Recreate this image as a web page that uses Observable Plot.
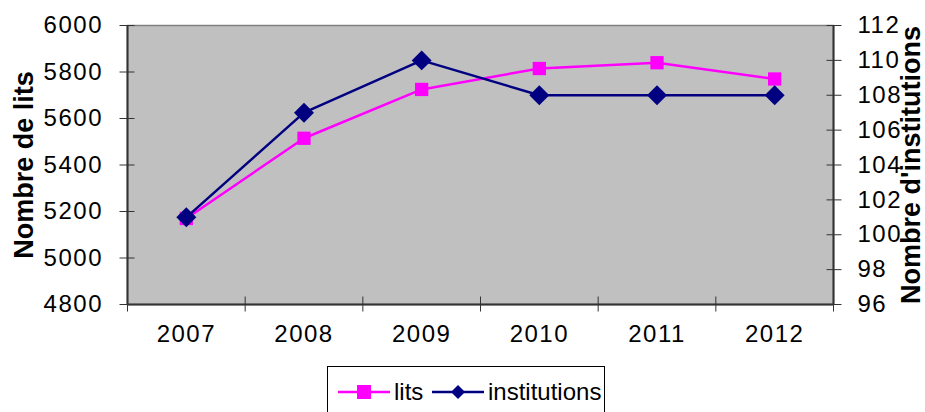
<!DOCTYPE html>
<html>
<head>
<meta charset="utf-8">
<script src="https://cdn.jsdelivr.net/npm/d3@7"></script>
<script src="https://cdn.jsdelivr.net/npm/@observablehq/plot@0.6"></script>
<style>
  body { margin: 0; background: #fff; font-family: "Liberation Sans", Arial, sans-serif; }
  #wrap { position: relative; width: 925px; height: 412px; overflow: hidden; }
  #legend { position: absolute; left: 327px; top: 366px; width: 278px; height: 52px; border: 1px solid #000; box-sizing: border-box; background: #fff; font-size: 24px; color: #000; }
  #legend .item { position: absolute; top: 10px; display: flex; align-items: center; height: 30px; }
  #legend svg { display: block; }
</style>
</head>
<body>
<div id="wrap">
  <div id="chart"></div>
  <div id="legend"></div>
</div>
<script>
const years = [2007, 2008, 2009, 2010, 2011, 2012];
const lits = [5170, 5515, 5725, 5815, 5840, 5770];
const institutions = [101, 107, 110, 108, 108, 108];
const litsTicks = [4800, 5000, 5200, 5400, 5600, 5800, 6000];
const instTicks = [96, 98, 100, 102, 104, 106, 108, 110, 112];

const colorLits = "#FF00FF";
const colorInst = "#000080";

// map right-axis values onto the left scale (96..112 -> 4800..6000)
const instToLeft = v => 4800 + (v - 96) * (1200 / 16);
const leftToInst = y => 96 + (y - 4800) * (16 / 1200);

const dataLits = years.map((yr, i) => ({year: yr, value: lits[i]}));
const dataInst = years.map((yr, i) => ({year: yr, value: instToLeft(institutions[i])}));
const bounds = [years[0] - 0.5, ...years.map(y => y + 0.5)];

const font = "Liberation Sans, Arial, sans-serif";

const chart = Plot.plot({
  width: 925,
  height: 360,
  marginLeft: 127,
  marginRight: 92,
  marginTop: 25,
  marginBottom: 56,
  style: {fontFamily: font, fontSize: "24px", color: "#000", background: "#fff"},
  x: {domain: [years[0] - 0.5, years[years.length - 1] + 0.5]},
  y: {domain: [4800, 6000]},
  marks: [
    Plot.frame({fill: "#C0C0C0", stroke: "#808080", strokeWidth: 1.5}),
    Plot.ruleY([4800], {stroke: "#333", strokeWidth: 2}),
    Plot.ruleX([bounds[0], bounds[bounds.length - 1]], {stroke: "#333", strokeWidth: 2}),
    // crossing tick marks
    Plot.axisY({ticks: litsTicks, anchor: "left", tickSize: 15, dx: 7.5, tickFormat: () => "", label: null, stroke: "#333"}),
    Plot.axisY({ticks: instTicks.map(instToLeft), anchor: "right", tickSize: 15, dx: -7.5, tickFormat: () => "", label: null, stroke: "#333"}),
    Plot.axisX({ticks: bounds, anchor: "bottom", tickSize: 15, dy: -7.5, tickFormat: () => "", label: null, stroke: "#333"}),
    // tick labels
    Plot.axisY({ticks: litsTicks, anchor: "left", tickSize: 0, tickPadding: 24.5, tickFormat: d => String(d),
      label: "Nombre de lits", labelAnchor: "center", labelOffset: 114, labelArrow: "none"}),
    Plot.axisY({ticks: instTicks.map(instToLeft), anchor: "right", tickSize: 0, tickPadding: 24,
      tickFormat: d => String(Math.round(leftToInst(d))),
      label: "Nombre d'institutions", labelAnchor: "center", labelOffset: 86, labelArrow: "none"}),
    Plot.axisX({ticks: years, anchor: "bottom", tickSize: 0, tickPadding: 20, tickFormat: d => String(d), label: null}),
    // series
    Plot.line(dataLits, {x: "year", y: "value", stroke: colorLits, strokeWidth: 2.5}),
    Plot.dot(dataLits, {x: "year", y: "value", symbol: "square", r: 7.5, fill: colorLits, stroke: "none"}),
    Plot.line(dataInst, {x: "year", y: "value", stroke: colorInst, strokeWidth: 2.5}),
    Plot.dot(dataInst, {x: "year", y: "value", symbol: "diamond2", r: 9, fill: colorInst, stroke: "none"})
  ]
});

// axis titles: bold, larger, no arrows
d3.select(chart).selectAll("g[aria-label='y-axis label'] text")
  .attr("font-weight", "bold")
  .attr("font-size", "27px")
  .each(function() {
    const t = this.textContent.replace(/[\u2190-\u2193]/g, "").trim();
    this.textContent = t;
  });
d3.select(chart).selectAll("g[aria-label='y-axis tick label'] text, g[aria-label='x-axis tick label'] text")
  .attr("font-weight", "normal")
  .attr("letter-spacing", "1.5px");
document.getElementById("chart").appendChild(chart);

// legend
const legend = d3.select("#legend");
const items = [
  {name: "lits", color: colorLits, symbol: "square", left: 9},
  {name: "institutions", color: colorInst, symbol: "diamond", left: 103}
];
items.forEach(it => {
  const d = legend.append("div").attr("class", "item").style("left", it.left + "px");
  const s = d.append("svg").attr("width", 54).attr("height", 30);
  s.append("line").attr("x1", 1).attr("x2", 53).attr("y1", 15).attr("y2", 15)
    .attr("stroke", it.color).attr("stroke-width", 2.5);
  if (it.symbol === "square") {
    s.append("rect").attr("x", 20).attr("y", 8).attr("width", 14).attr("height", 14).attr("fill", it.color);
  } else {
    s.append("path").attr("d", "M27,8L34,15L27,22L20,15Z").attr("fill", it.color);
  }
  d.append("span").style("margin-left", "3px").style("line-height", "30px").text(it.name);
});
</script>
</body>
</html>
